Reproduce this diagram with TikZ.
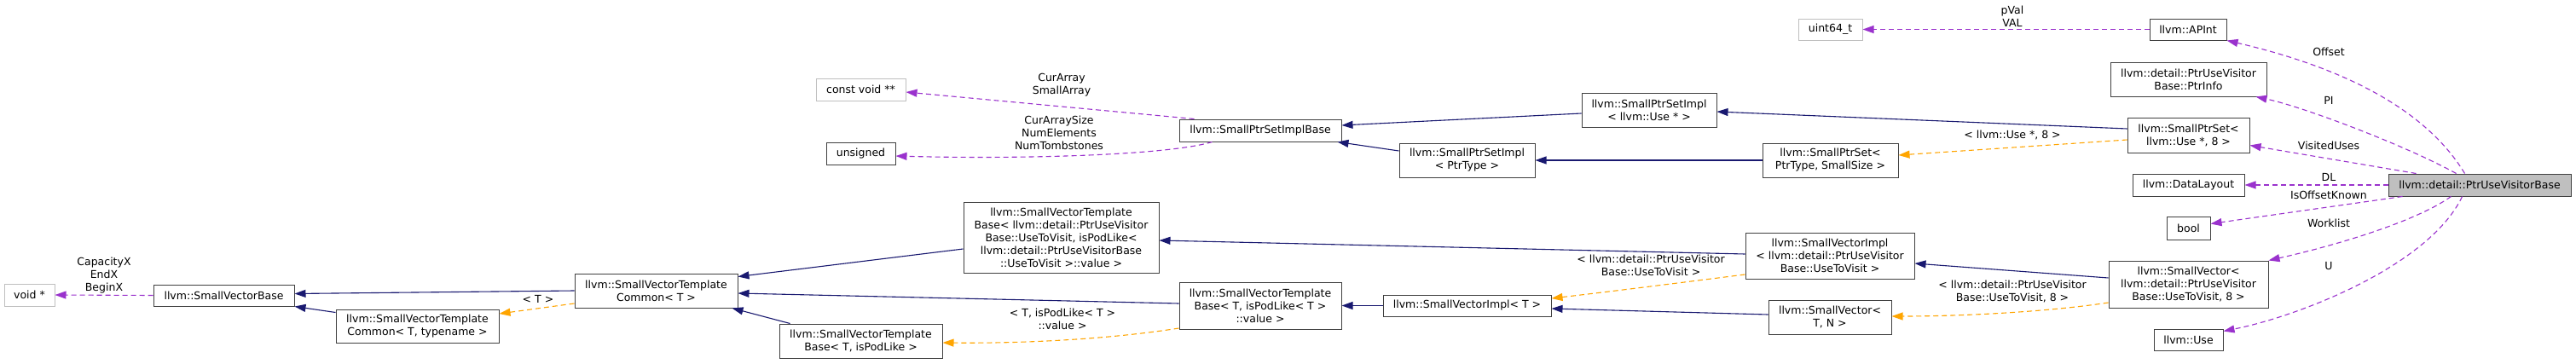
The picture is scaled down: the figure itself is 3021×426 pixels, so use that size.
\documentclass[tikz,border=0pt]{standalone}
\usepackage{fontspec}
\setmainfont{DejaVu Sans}
\usetikzlibrary{arrows.meta,calc}
\definecolor{navyc}{HTML}{191970}
\definecolor{purp}{HTML}{9A32CD}
\definecolor{orng}{HTML}{FFA500}
\definecolor{grayb}{HTML}{BFBFBF}
\definecolor{boxb}{HTML}{404040}
\begin{document}
\begin{tikzpicture}[x=1pt,y=-1pt,
  every node/.style={font=\fontsize{12.5}{15}\selectfont},
  cls/.style={draw=boxb, line width=1pt, fill=white, inner sep=0pt, align=center},
  ucls/.style={cls, draw=grayb},
  sz/.style 2 args={minimum width=#1pt, minimum height=#2pt},
  lbl/.style={inner sep=0pt, align=center},
  tipa/.style={-{Triangle[length=13pt,width=9pt]}},
  inh/.style={draw=navyc, line width=1.1pt, tipa},
  usee/.style={draw=purp, line width=1.1pt, dash pattern=on 6pt off 4pt, tipa},
  tmpl/.style={draw=orng, line width=1.1pt, dash pattern=on 6pt off 4pt, tipa},
]
\useasboundingbox[fill=white] (0,0) rectangle (3021,426);

% nodes
\node[ucls, sz={59}{26}] (voidp) at (34.5,346) {void *};
\node[cls, sz={165}{25}] (svb) at (262.5,346.5) {llvm::SmallVectorBase};
\node[cls, sz={191}{39}] (svtc2) at (489.5,382.5) {llvm::SmallVectorTemplate\\Common< T, typename >};
\node[cls, sz={191}{40}] (svtc) at (769.5,341) {llvm::SmallVectorTemplate\\Common< T >};
\node[cls, sz={229}{83}] (svtbU) at (1244.5,278.5) {llvm::SmallVectorTemplate\\Base< llvm::detail::PtrUseVisitor\\Base::UseToVisit, isPodLike<\\llvm::detail::PtrUseVisitorBase\\::UseToVisit >::value >};
\node[cls, sz={191}{40}] (svtbTP) at (1009.5,400) {llvm::SmallVectorTemplate\\Base< T, isPodLike >};
\node[cls, sz={190}{55}] (svtbTV) at (1478,358.5) {llvm::SmallVectorTemplate\\Base< T, isPodLike< T >\\::value >};
\node[ucls, sz={105}{26}] (cvoid) at (1009.5,105) {const void **};
\node[cls, sz={81}{26}] (unsig) at (1009.5,180) {unsigned};
\node[cls, sz={190}{26}] (spsib) at (1478,153) {llvm::SmallPtrSetImplBase};
\node[cls, sz={158}{40}] (spsiU) at (1934,129) {llvm::SmallPtrSetImpl\\< llvm::Use * >};
\node[cls, sz={159}{40}] (spsiP) at (1720.5,188) {llvm::SmallPtrSetImpl\\< PtrType >};
\node[cls, sz={159}{40}] (spsP) at (2146.5,188) {llvm::SmallPtrSet<\\PtrType, SmallSize >};
\node[ucls, sz={75}{25}] (uint) at (2146.5,34.5) {uint64\_t};
\node[cls, sz={197}{25}] (sviT) at (1720.5,358.5) {llvm::SmallVectorImpl< T >};
\node[cls, sz={198}{54}] (sviU) at (2146,300) {llvm::SmallVectorImpl\\< llvm::detail::PtrUseVisitor\\Base::UseToVisit >};
\node[cls, sz={144}{40}] (svTN) at (2146,372) {llvm::SmallVector<\\T, N >};
\node[cls, sz={90}{25}] (apint) at (2566,34.5) {llvm::APInt};
\node[cls, sz={183}{40}] (ptrinfo) at (2566.5,93) {llvm::detail::PtrUseVisitor\\Base::PtrInfo};
\node[cls, sz={143}{41}] (spsU) at (2566.5,158.5) {llvm::SmallPtrSet<\\llvm::Use *, 8 >};
\node[cls, sz={131}{26}] (dl) at (2566.5,217) {llvm::DataLayout};
\node[cls, sz={214}{26}, fill=grayb] (puvb) at (2908,217) {llvm::detail::PtrUseVisitorBase};
\node[cls, sz={51}{27}] (boolN) at (2566.5,267.5) {bool};
\node[cls, sz={187}{55}] (svU8) at (2566.5,333.5) {llvm::SmallVector<\\llvm::detail::PtrUseVisitor\\Base::UseToVisit, 8 >};
\node[cls, sz={81}{25}] (use) at (2566.5,398.5) {llvm::Use};

% usage edges (purple)
\draw[usee] (svb.west) -- (voidp.east);
\draw[usee] ($(spsib.north west)+(18,0)$) -- ($(cvoid.east)+(0,3)$);
\draw[usee] ($(spsib.south west)+(39,0)$) .. controls (1370,182) and (1200,187) .. ($(unsig.east)+(0,3)$);
\draw[usee] (apint.west) -- (uint.east);
\draw[usee] ($(puvb.north west)+(90,0)$) .. controls (2840,120) and (2730,75) .. (apint.south east);
\draw[usee] ($(puvb.north west)+(80,0)$) .. controls (2820,170) and (2700,125) .. ($(ptrinfo.south east)+(-13,0)$);
\draw[usee] ($(puvb.north west)+(33,0)$) -- ($(spsU.east)+(0,12)$);
\draw[usee] (puvb.west) -- (dl.east);
\draw[usee] ($(puvb.south west)+(17,0)$) -- ($(boolN.east)+(0,-5)$);
\draw[usee] ($(puvb.south west)+(74,0)$) .. controls (2830,262) and (2730,290) .. (svU8.north east);
\draw[usee] ($(puvb.south west)+(87,0)$) .. controls (2850,310) and (2700,370) .. ($(use.north east)+(0,3)$);

% inheritance edges (navy)
\draw[inh] (svtc.west) -- ($(svb.east)+(0,-2)$);
\draw[inh] ($(svtc2.north west)+(0,4)$) -- (svb.south east);
\draw[inh] ($(svtbU.west)+(0,13.5)$) -- ($(svtc.north east)+(0,4)$);
\draw[inh] ($(svtbTV.west)+(0,-2.5)$) -- ($(svtc.east)+(0,3)$);
\draw[inh] ($(svtbTP.north west)+(13,0)$) -- ($(svtc.south east)+(-7,0)$);
\draw[inh] ($(spsiU.west)+(0,4)$) -- ($(spsib.east)+(0,-6)$);
\draw[inh] ($(spsiP.west)+(0,-11)$) -- ($(spsib.south east)+(-5,0)$);
\draw[inh] (spsP.west) -- (spsiP.east);
\draw[inh] ($(spsU.west)+(0,-7.5)$) -- ($(spsiU.east)+(0,2)$);
\draw[inh] (sviT.west) -- (svtbTV.east);
\draw[inh] ($(sviU.west)+(0,-2)$) -- ($(svtbU.east)+(0,3.5)$);
\draw[inh] ($(svTN.west)+(0,-3)$) -- ($(sviT.east)+(0,3.5)$);
\draw[inh] ($(svU8.west)+(0,-7.5)$) -- ($(sviU.east)+(0,9)$);

% template instance edges (orange)
\draw[tmpl] ($(svtc.west)+(0,15)$) -- ($(svtc2.east)+(0,-14.5)$);
\draw[tmpl] ($(svtbTV.south west)+(0,-1.5)$) .. controls (1300,398) and (1200,403) .. ($(svtbTP.east)+(0,2)$);
\draw[tmpl] ($(sviU.west)+(0,22)$) .. controls (1960,333) and (1880,343) .. ($(sviT.east)+(0,-8.5)$);
\draw[tmpl] ($(spsU.west)+(0,5.5)$) -- ($(spsP.east)+(0,-6)$);
\draw[tmpl] ($(svU8.west)+(0,21.5)$) .. controls (2400,366) and (2300,371) .. ($(svTN.east)+(0,-1)$);

% labels
\node[lbl] (l1) at (122,323) {CapacityX\\EndX\\BeginX};
\node[lbl] (l2) at (631,351) {< T >};
\node[lbl] (l3) at (1245,99.5) {CurArray\\SmallArray};
\node[lbl] (l4) at (1242,156) {CurArraySize\\NumElements\\NumTombstones};
\node[lbl] (l5) at (1246,374) {< T, isPodLike< T >\\::value >};
\node[lbl] (l6) at (1936,311) {< llvm::detail::PtrUseVisitor\\Base::UseToVisit >};
\node[lbl] (l7) at (2360,19.5) {pVal\\VAL};
\node[lbl] (l8) at (2360,158) {< llvm::Use *, 8 >};
\node[lbl] (l9) at (2360,341.5) {< llvm::detail::PtrUseVisitor\\Base::UseToVisit, 8 >};
\node[lbl] (l10) at (2731,61) {Offset};
\node[lbl] (l11) at (2731,118) {PI};
\node[lbl] (l12) at (2731,171) {VisitedUses};
\node[lbl] (l13) at (2731,208) {DL};
\node[lbl] (l14) at (2731,229) {IsOffsetKnown};
\node[lbl] (l15) at (2731,262) {Worklist};
\node[lbl] (l16) at (2731,312) {U};
\end{tikzpicture}
\end{document}
